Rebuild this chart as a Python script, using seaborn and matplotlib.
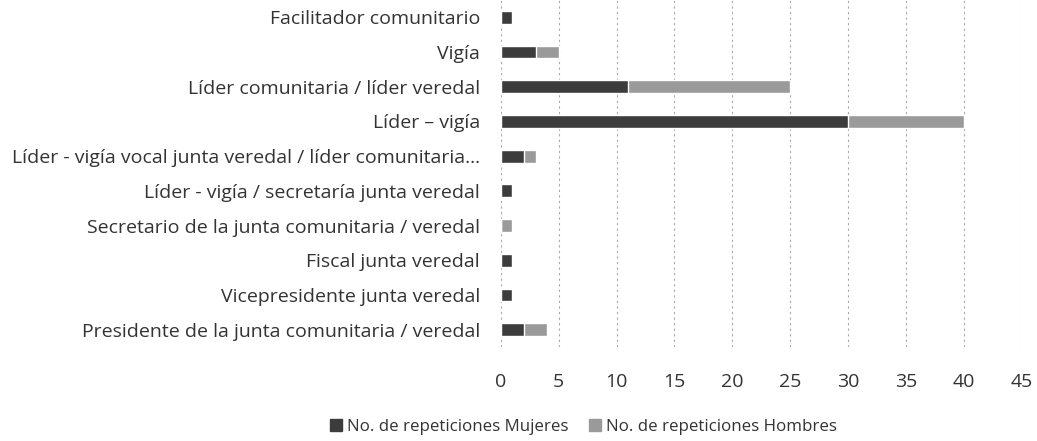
import matplotlib
matplotlib.use("Agg")
import matplotlib.pyplot as plt
import seaborn as sns
import pandas as pd
from matplotlib.patches import Patch

categorias = [
    "Facilitador comunitario",
    "Vigía",
    "Líder comunitaria / líder veredal",
    "Líder – vigía",
    "Líder - vigía vocal junta veredal / líder comunitaria...",
    "Líder - vigía / secretaría junta veredal",
    "Secretario de la junta comunitaria / veredal",
    "Fiscal junta veredal",
    "Vicepresidente junta veredal",
    "Presidente de la junta comunitaria / veredal",
]
mujeres = [1, 3, 11, 30, 2, 1, 0, 1, 1, 2]
hombres = [0, 2, 14, 10, 1, 0, 1, 0, 0, 2]
ticks = [0, 5, 10, 15, 20, 25, 30, 35, 40, 45]

c_muj = "#3c3c3c"
c_hom = "#9a9a9a"

sns.set_theme(style="white")
plt.rcParams["font.family"] = ["Open Sans", "DejaVu Sans"]

df = pd.DataFrame({"cat": categorias, "muj": mujeres, "hom": hombres})
df["total"] = df["muj"] + df["hom"]

fig = plt.figure(figsize=(10.37, 4.41), dpi=100)
ax = fig.add_axes([0.483, 0.213, 0.502, 0.787])

sns.barplot(data=df, y="cat", x="total", color=c_hom, orient="h", width=0.37,
            ax=ax, saturation=1)
sns.barplot(data=df, y="cat", x="muj", color=c_muj, orient="h", width=0.37,
            ax=ax, saturation=1)

ax.set_xlim(0, 45)
ax.set_xticks(ticks)
ax.set_xticklabels([str(t) for t in ticks])
ax.set_xlabel("")
ax.set_ylabel("")
for s in ax.spines.values():
    s.set_visible(False)
ax.xaxis.grid(True, color="#a8a8a8", linestyle=(0, (2, 3)), linewidth=0.8)
ax.set_axisbelow(True)
ax.tick_params(axis="x", length=0, pad=19, labelsize=14, colors="#333333")
ax.tick_params(axis="y", length=0, pad=15, labelsize=14, colors="#333333")

handles = [Patch(color=c_muj, label="No. de repeticiones Mujeres"),
           Patch(color=c_hom, label="No. de repeticiones Hombres")]
fig.legend(handles=handles, loc="center", bbox_to_anchor=(0.563, 0.032), ncol=2,
           frameon=False, fontsize=12.2, handlelength=0.7, handleheight=0.7,
           handletextpad=0.3, columnspacing=1.2, labelcolor="#333333")

fig.savefig("out.png", dpi=100)
